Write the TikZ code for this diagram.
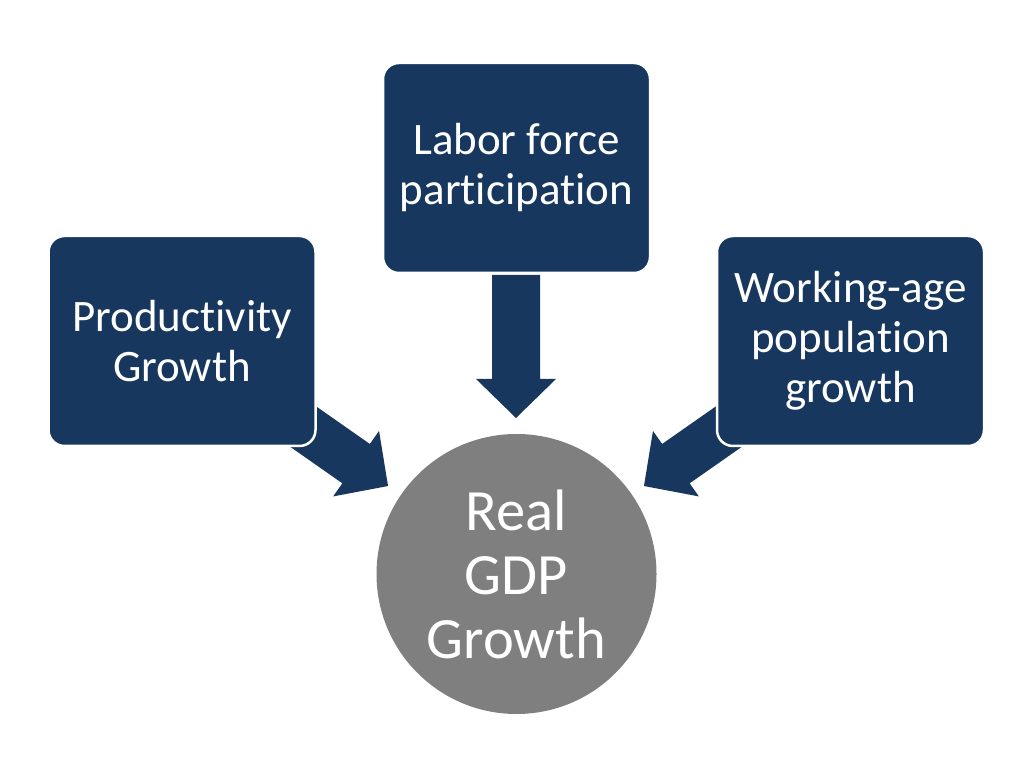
\documentclass[tikz,border=0pt]{standalone}
\usepackage{fontspec}
\setmainfont{Carlito}[Ligatures=NoCommon]
\definecolor{navy}{HTML}{17375E}
\definecolor{disc}{HTML}{7F7F7F}
\tikzset{
  box/.style={draw=white, line width=2.5pt, fill=navy, rounded corners=16pt,
    minimum width=267pt, minimum height=210pt, text=white, align=center,
    font=\fontsize{45}{50}\selectfont, inner sep=0pt},
  gdp/.style={circle, fill=disc, minimum size=280pt, text=white, align=center,
    font=\fontsize{58.5}{64}\selectfont, inner sep=0pt},
  blockarrow/.style={fill=navy, draw=none}
}
\newcommand{\blockarrowpath}{(0,24) -- (104,24) -- (104,40) -- (143,0) -- (104,-40) -- (104,-24) -- (0,-24) -- cycle}
\begin{document}
\begin{tikzpicture}[x=1pt,y=1pt]
\useasboundingbox (0,0) rectangle (1024,768);
\fill[white] (0,0) rectangle (1024,768);
% block arrows (behind boxes)
\coordinate (tailL) at (270.9,364);
\coordinate (tailT) at (516,493);
\coordinate (tailR) at (761.1,364);
\begin{scope}[shift={(tailT)}, rotate=-90]
  \fill[blockarrow] \blockarrowpath;
\end{scope}
\begin{scope}[shift={(tailL)}, rotate=-35]
  \fill[blockarrow] \blockarrowpath;
\end{scope}
\begin{scope}[shift={(tailR)}, rotate=-145]
  \fill[blockarrow] \blockarrowpath;
\end{scope}
% boxes
\node[box] (labor) at (516.5,600) {Labor force\\participation};
\node[box] (prod) at (182,427) {Productivity\\Growth};
\node[box] (work) at (850.5,427) {Working-age\\population\\growth};
% circle
\node[gdp] (gdp) at (516.5,194) {Real\\GDP\\Growth};
\end{tikzpicture}
\end{document}
